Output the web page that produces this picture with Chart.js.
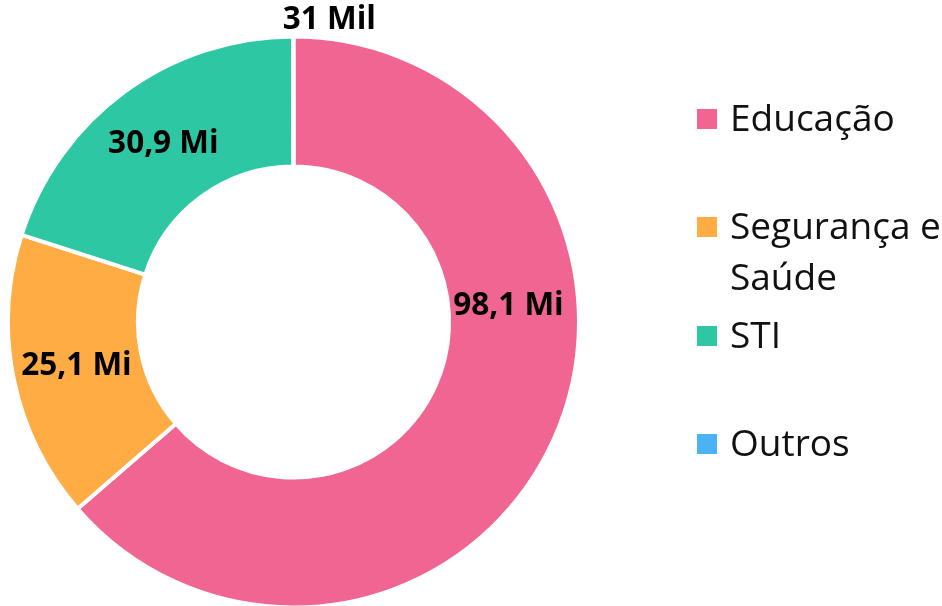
<!DOCTYPE html>
<html><head><meta charset="utf-8">
<script src="https://cdn.jsdelivr.net/npm/chart.js@4.4.1/dist/chart.umd.min.js"></script>
<style>
html,body{margin:0;padding:0;background:#fff;overflow:hidden;width:942px;height:606px;}
#wrap{position:relative;width:942px;height:606px;overflow:hidden;}
canvas{position:absolute;left:0;top:0;}
#legend{position:absolute;left:697px;top:91px;font-family:"Open Sans";font-size:37px;color:#111;}
.item{position:absolute;left:0;width:260px;}
.box{position:absolute;left:0;top:18px;width:20px;height:20px;}
.txt{position:absolute;left:33px;top:0;width:222px;line-height:51px;white-space:normal;}
</style></head><body>
<div id="wrap"><canvas id="c" width="942" height="660"></canvas><div id="legend"></div></div>
<script>
const categories = ["Educação", "Segurança e Saúde", "STI", "Outros"];
const valuesMi = [98.1, 25.1, 30.9, 0.031];
const colors = ["#f06591", "#ffac45", "#2ec7a4", "#4bb3f5"];

function fmt(v){
  if (v >= 1) return v.toFixed(1).replace('.', ',') + ' Mi';
  return Math.round(v * 1000) + ' Mil';
}

const labelPlugin = {
  id: 'sliceLabels',
  afterDatasetsDraw(chart, args, opts) {
    const ctx = chart.ctx;
    const meta = chart.getDatasetMeta(0);
    const data = chart.data.datasets[0].data;
    ctx.save();
    ctx.font = 'bold 31.5px "Open Sans"';
    ctx.fillStyle = '#000';
    ctx.textBaseline = 'middle';
    meta.data.forEach((arc, i) => {
      const p = arc.getProps(['x','y','startAngle','endAngle','innerRadius','outerRadius'], true);
      const shift = (opts.angleShift && opts.angleShift[i]) || 0;
      const rShift = (opts.radiusShift && opts.radiusShift[i]) || 0;
      const mid = (p.startAngle + p.endAngle) / 2 + shift;
      const v = data[i];
      if (v >= 1) {
        const r = (p.innerRadius + p.outerRadius) / 2 + rShift;
        ctx.textAlign = 'center';
        ctx.fillText(fmt(v), p.x + Math.cos(mid) * r, p.y + Math.sin(mid) * r);
      } else {
        const r = p.outerRadius + opts.outsideGap;
        ctx.textAlign = 'left';
        ctx.fillText(fmt(v), p.x + Math.cos(mid) * r - opts.outsideIndent, p.y + Math.sin(mid) * r);
      }
    });
    ctx.restore();
  }
};

new Chart(document.getElementById('c'), {
  type: 'doughnut',
  data: {
    labels: categories,
    datasets: [{
      data: valuesMi,
      backgroundColor: colors,
      borderColor: '#ffffff',
      borderWidth: 4,
      hoverOffset: 0,
      offset: 0
    }]
  },
  options: {
    responsive: false,
    animation: false,
    cutout: '54.5%',
    layout: { padding: { left: 6, right: 361, top: 34.5, bottom: 50.5 } },
    plugins: {
      legend: { display: false },
      tooltip: { enabled: false },
      sliceLabels: { angleShift: [-28.8 * Math.PI / 180, 0, 0, 0], radiusShift: [-5, 1, 0, 0], outsideGap: 16, outsideIndent: 10.5 }
    }
  },
  plugins: [labelPlugin]
});

const legend = document.getElementById('legend');
categories.forEach((name, i) => {
  const item = document.createElement('div');
  item.className = 'item';
  item.style.top = (i * 108.3) + 'px';
  const box = document.createElement('div');
  box.className = 'box';
  box.style.background = colors[i];
  const txt = document.createElement('div');
  txt.className = 'txt';
  txt.textContent = name;
  item.appendChild(box);
  item.appendChild(txt);
  legend.appendChild(item);
});
</script>
</body></html>
